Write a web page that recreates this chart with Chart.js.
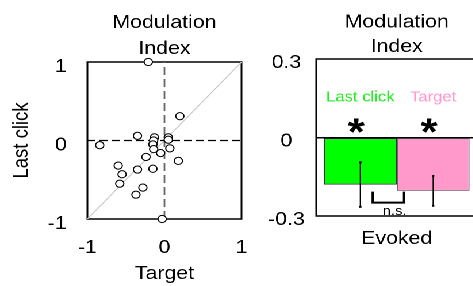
<!DOCTYPE html>
<html>
<head>
<meta charset="utf-8">
<script src="https://cdn.jsdelivr.net/npm/chart.js@4.4.1/dist/chart.umd.min.js"></script>
<style>
  html, body { margin: 0; padding: 0; background: #fff; overflow: hidden; }
  body { width: 473px; height: 286px; position: relative; }
  /* the original figure is stretched sideways, so the whole stage is too */
  #stage { position: absolute; left: 0; top: 0; width: 411.3px; height: 286px; overflow: hidden;
           transform: scaleX(1.15); transform-origin: 0 0; }
  #scatterBox { position: absolute; left: 0; top: 0; width: 217px; height: 286px; }
  #barBox { position: absolute; left: 217px; top: 0; width: 198px; height: 286px; }
</style>
</head>
<body>
<div id="stage">
  <div id="scatterBox"><canvas id="scatterChart"></canvas></div>
  <div id="barBox"><canvas id="barChart"></canvas></div>
</div>
<script>
// Modulation index per unit: target (x) vs last click (y)
const targetMI =    [-0.21, 0.20, -0.35, -0.84, -0.13, -0.14, -0.15, 0.05, 0.05, 0.07, -0.14, -0.24, -0.05, 0.18, -0.60, -0.55, -0.58, -0.35, -0.15, -0.28, -0.37, -0.03];
const lastClickMI = [ 1.00, 0.31,  0.06, -0.06,  0.04,  0.00, -0.05, 0.04, 0.01, -0.10, -0.11, -0.21, -0.16, -0.26, -0.32, -0.43, -0.55, -0.37, -0.36, -0.60, -0.69, -1.00];
const scatterTicks = [-1, 0, 1];

// Evoked modulation index, mean and error
const conditions = ['Evoked'];
const seriesNames = ['Last click', 'Target'];
const meanMI = [-0.180, -0.204];
const errorMI = [0.085, 0.057];
const significance = ['*', '*'];
const pairLabel = 'n.s.';
const barTicks = [-0.3, 0, 0.3];

const FONT = '"Liberation Sans", Arial, sans-serif';
Chart.defaults.font.family = FONT;
Chart.defaults.font.size = 18.5;
Chart.defaults.color = '#000';

const barFill = ['#00ff00', '#ff99cc'];
const barEdge = ['#333333', '#7a6670'];
const labelColor = ['#22ee22', '#ff99cc'];

// box around the plot area
const frame = {
  id: 'frame',
  beforeDatasetsDraw(chart) {
    const { ctx, chartArea: a } = chart;
    ctx.save();
    ctx.strokeStyle = '#000';
    ctx.lineWidth = 1.5;
    ctx.strokeRect(a.left, a.top, a.right - a.left, a.bottom - a.top);
    ctx.restore();
  }
};

const titleOpts = (lh, padTop, padBottom) => ({
  display: true,
  text: ['Modulation', 'Index'],
  fullSize: false,
  color: '#000',
  font: { size: 18.5, weight: 'normal', lineHeight: lh },
  padding: { top: padTop, bottom: padBottom }
});

new Chart(document.getElementById('scatterChart'), {
  type: 'scatter',
  data: {
    datasets: [
      {
        data: targetMI.map((x, i) => ({ x: x, y: lastClickMI[i] })),
        pointRadius: 3.6,
        pointBackgroundColor: '#fff',
        pointBorderColor: '#000',
        pointBorderWidth: 1,
        clip: false,
        order: 0
      },
      {
        data: [{ x: scatterTicks[0], y: scatterTicks[0] }, { x: scatterTicks[2], y: scatterTicks[2] }],
        showLine: true, borderColor: '#c8c8c8', borderWidth: 1, pointRadius: 0, order: 3
      },
      {
        data: [{ x: scatterTicks[0], y: 0 }, { x: scatterTicks[2], y: 0 }],
        showLine: true, borderColor: '#000', borderWidth: 1.3, borderDash: [7, 3.5], pointRadius: 0, order: 2
      },
      {
        data: [{ x: 0, y: scatterTicks[0] }, { x: 0, y: scatterTicks[2] }],
        showLine: true, borderColor: '#666', borderWidth: 1.4, borderDash: [8, 4], pointRadius: 0, order: 2
      }
    ]
  },
  options: {
    responsive: true,
    maintainAspectRatio: false,
    animation: false,
    devicePixelRatio: 2,
    layout: { padding: { left: 0, right: 7, top: 0, bottom: 0 } },
    plugins: {
      legend: { display: false },
      tooltip: { enabled: false },
      title: titleOpts('26px', 10, 0)
    },
    scales: {
      x: {
        min: -1, max: 1,
        afterBuildTicks: s => { s.ticks = scatterTicks.map(v => ({ value: v })); },
        ticks: { padding: 0 },
        grid: { display: false, drawTicks: true, tickLength: 18 },
        border: { display: false },
        title: { display: true, text: 'Target', padding: { top: 0, bottom: 1 } },
        afterFit: s => { s.height = 67; }
      },
      y: {
        min: -1, max: 1,
        afterBuildTicks: s => { s.ticks = scatterTicks.map(v => ({ value: v })); },
        ticks: { padding: 18, labelOffset: 5 },
        grid: { display: false, drawTicks: false },
        border: { display: false },
        title: { display: true, text: 'Last click', padding: { top: 8, bottom: 0 } },
        afterFit: s => { s.width = 76; }
      }
    }
  },
  plugins: [frame]
});

// error bars, labels, stars and the n.s. bracket
const barMarks = {
  id: 'barMarks',
  afterDatasetsDraw(chart) {
    const { ctx, scales: { y } } = chart;
    const bars = seriesNames.map((n, i) => chart.getDatasetMeta(i).data[0]);
    ctx.save();
    bars.forEach((bar, i) => {
      const yTop = y.getPixelForValue(meanMI[i] + errorMI[i]);
      const yBot = y.getPixelForValue(meanMI[i] - errorMI[i]);
      ctx.strokeStyle = '#000';
      ctx.lineWidth = 1;
      ctx.beginPath();
      ctx.moveTo(bar.x, yTop);
      ctx.lineTo(bar.x, yBot);
      ctx.stroke();
      ctx.fillStyle = '#000';
      ctx.fillRect(bar.x - 1, yTop - 1, 2, 2);
      ctx.fillRect(bar.x - 1, yBot - 1, 2, 2);

      ctx.font = '14.5px ' + FONT;
      ctx.textAlign = 'center';
      ctx.textBaseline = 'middle';
      ctx.fillStyle = labelColor[i];
      ctx.fillText(seriesNames[i], bar.x, y.getPixelForValue(0.153));

      ctx.font = 'bold 38px ' + FONT;
      ctx.textBaseline = 'alphabetic';
      ctx.fillStyle = '#000';
      ctx.fillText(significance[i], bar.x - 3.5, y.getPixelForValue(0.056) + 0.57 * 38);
    });

    const w = bars[1].x - bars[0].x;
    const x1 = bars[0].x + 0.17 * w, x2 = bars[0].x + 0.6 * w;
    const yA = y.getPixelForValue(-0.207), yB = y.getPixelForValue(-0.249);
    ctx.strokeStyle = '#000';
    ctx.lineWidth = 2;
    ctx.beginPath();
    ctx.moveTo(x1, yA);
    ctx.lineTo(x1, yB);
    ctx.lineTo(x2, yB);
    ctx.lineTo(x2, yA);
    ctx.stroke();
    ctx.font = '13px ' + FONT;
    ctx.textAlign = 'center';
    ctx.textBaseline = 'middle';
    ctx.fillText(pairLabel, bars[0].x + 0.47 * w, y.getPixelForValue(-0.283));
    ctx.restore();
  }
};

new Chart(document.getElementById('barChart'), {
  type: 'bar',
  data: {
    labels: conditions,
    datasets: seriesNames.map((name, i) => ({
      label: name,
      data: [meanMI[i]],
      backgroundColor: barFill[i],
      borderColor: barEdge[i],
      borderWidth: 1,
      borderSkipped: false,
      categoryPercentage: 0.905,
      barPercentage: 1
    }))
  },
  options: {
    responsive: true,
    maintainAspectRatio: false,
    animation: false,
    devicePixelRatio: 2,
    layout: { padding: 0 },
    plugins: {
      legend: { display: false },
      tooltip: { enabled: false },
      title: titleOpts('24.5px', 10, 0)
    },
    scales: {
      x: {
        ticks: { padding: 0 },
        grid: { display: false, drawTicks: true, tickLength: 12 },
        border: { display: false },
        afterFit: s => { s.height = 70; }
      },
      y: {
        min: -0.3, max: 0.3,
        afterBuildTicks: s => { s.ticks = barTicks.map(v => ({ value: v })); },
        ticks: { padding: 10, crossAlign: 'center', labelOffset: 4 },
        grid: {
          drawTicks: false,
          lineWidth: 1.5,
          color: c => (c.tick && Math.abs(c.tick.value) < 1e-9) ? '#000' : 'rgba(0,0,0,0)'
        },
        border: { display: false },
        afterFit: s => { s.width = 58; }
      }
    }
  },
  plugins: [frame, barMarks]
});
</script>
</body>
</html>
